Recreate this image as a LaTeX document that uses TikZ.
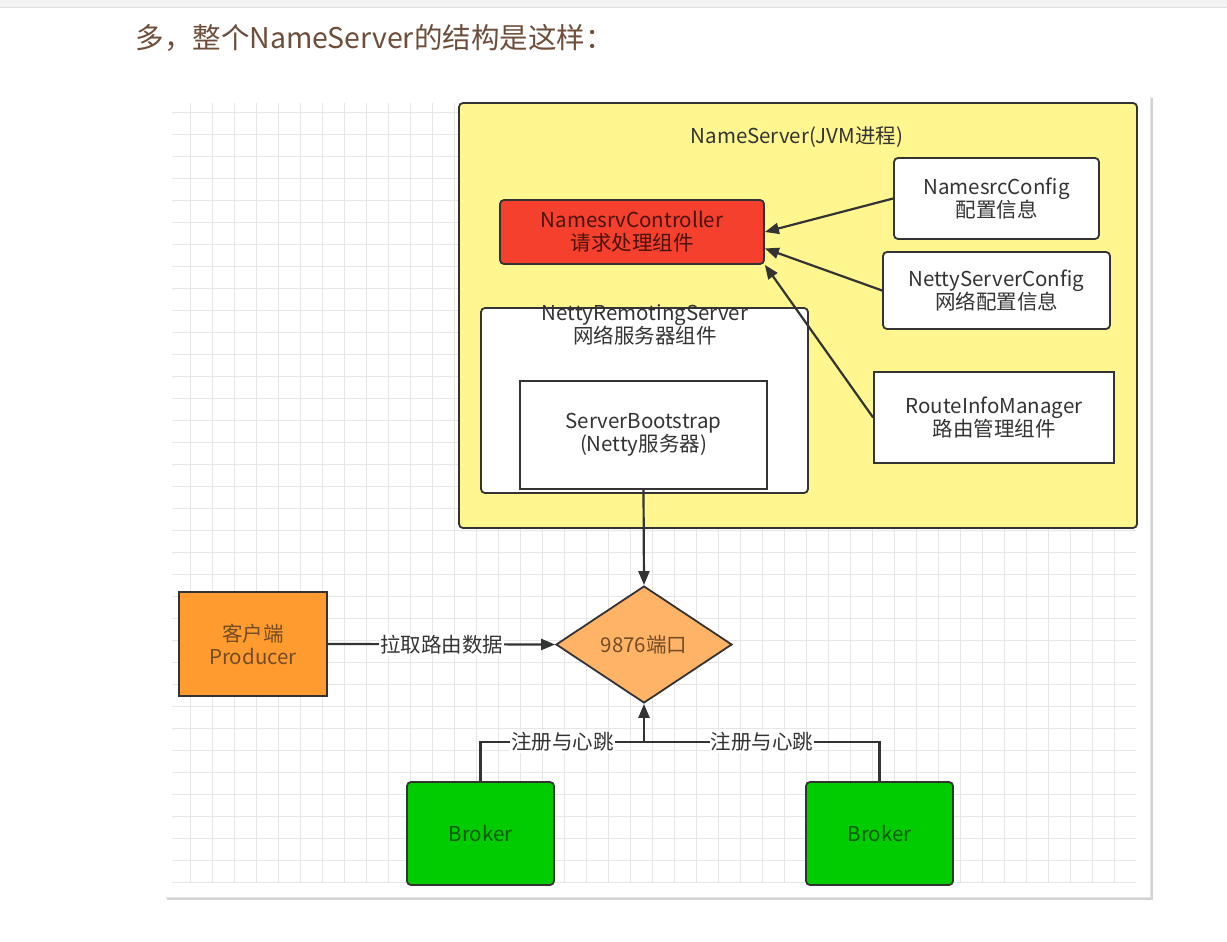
\documentclass[tikz,border=0pt]{standalone}
\usepackage{fontspec}
\setmainfont{Noto Sans CJK SC}
\usetikzlibrary{arrows.meta, shapes.geometric, calc}
\definecolor{ns-yellow}{HTML}{FFF68F}
\definecolor{ctrl-red}{HTML}{F4402C}
\definecolor{port-orange}{HTML}{FFB366}
\definecolor{prod-orange}{HTML}{FF9B2F}
\definecolor{broker-green}{HTML}{00CC00}
\definecolor{line-dark}{HTML}{333333}
\definecolor{grid-gray}{HTML}{E6E6E6}
\definecolor{title-brown}{HTML}{6E4E3A}

\begin{document}
\begin{tikzpicture}[x=1pt, y=-1pt,
      every node/.style={font=\fontsize{20.5}{23}\selectfont, align=center,
                         text=line-dark},
      box/.style={draw=line-dark, line width=1.8pt, inner sep=0pt},
      roundbox/.style={box, rounded corners=4pt},
      arr/.style={draw=line-dark, line width=2.2pt,
                  -{Triangle[length=14pt, width=11pt]}},
      link/.style={draw=line-dark, line width=2.2pt},
      lbl/.style={fill=white, inner sep=1pt}]
    \useasboundingbox (0,0) rectangle (1227,942);
    % page and panel
    \fill[white] (0,0) rectangle (1227,942);
    \fill[gray!10] (0,0) rectangle (1227,8);
    \draw[gray!25, line width=1pt] (0,8) -- (1227,8);
    \node[font=\fontsize{28.5}{31}\selectfont, text=title-brown, anchor=west]
          (TITLE) at (132,38) {多，整个NameServer的结构是这样：};
    \fill[gray!35] (167,98) rectangle (1153,900);
    \fill[gray!20] (165,96) rectangle (1151,898);
    \fill[white] (164,95) rectangle (1150,897);
    \foreach \gx in {190,212,...,1135} \draw[grid-gray, line width=0.9pt] (\gx,103) -- (\gx,882);
    \foreach \gy in {112,134,...,882} \draw[grid-gray, line width=0.9pt] (172,\gy) -- (1136,\gy);
    % NameServer process
    \node[roundbox, fill=ns-yellow, minimum width=678, minimum height=425]
          (NS) at (798,315.5) {};
    \node (NSL) at (797,137) {NameServer(JVM进程)};
    \node[roundbox, fill=ctrl-red, text=ctrl-red!30!black,
          minimum width=264, minimum height=64] (NC) at (632,232)
          {NamesrvController\\请求处理组件};
    \node[roundbox, fill=white, minimum width=205, minimum height=81]
          (NSC) at (996.5,198.5) {NamesrcConfig\\配置信息};
    \node[roundbox, fill=white, minimum width=227, minimum height=77]
          (NTC) at (996.5,290.5) {NettyServerConfig\\网络配置信息};
    \node[box, fill=white, minimum width=240, minimum height=91]
          (RIM) at (994,417.5) {RouteInfoManager\\路由管理组件};
    \node[roundbox, fill=white, minimum width=327, minimum height=185]
          (NRS) at (644.5,400.5) {};
    \node (NRSL) at (645,325) {NettyRemotingServer\\网络服务器组件};
    \node[box, fill=white, minimum width=247, minimum height=108]
          (SB) at (643.5,435) {ServerBootstrap\\(Netty服务器)};
    % clients
    \node[box, diamond, fill=port-orange, text=brown!60!black,
          minimum width=176, minimum height=117] (PORT) at (644,644.5) {9876端口};
    \node[box, fill=prod-orange, text=brown!60!black,
          minimum width=148, minimum height=104] (PROD) at (253,644) {客户端\\Producer};
    \node[roundbox, fill=broker-green, text=green!35!black,
          minimum width=147, minimum height=103] (B1) at (480.5,833.5) {Broker};
    \node[roundbox, fill=broker-green, text=green!35!black,
          minimum width=147, minimum height=103] (B2) at (879.5,833.5) {Broker};
    \coordinate (J) at (644,742);
    % connectors
    \draw[arr] (NSC.west) -- (NC.east);
    \draw[arr] (NTC.west) -- ($(NC.north east)!0.75!(NC.south east)$);
    \draw[arr] (RIM.west) -- (NC.south east);
    \draw[arr] (SB.south) -- (PORT.north);
    \draw[arr] (PROD.east) -- node[lbl] {拉取路由数据} (PORT.west);
    \draw[link] (B1.north) |- node[lbl, pos=0.75] {注册与心跳} (J);
    \draw[link] (B2.north) |- node[lbl, pos=0.75] {注册与心跳} (J);
    \draw[arr] (J) -- (PORT.south);
  \end{tikzpicture}
\end{document}
